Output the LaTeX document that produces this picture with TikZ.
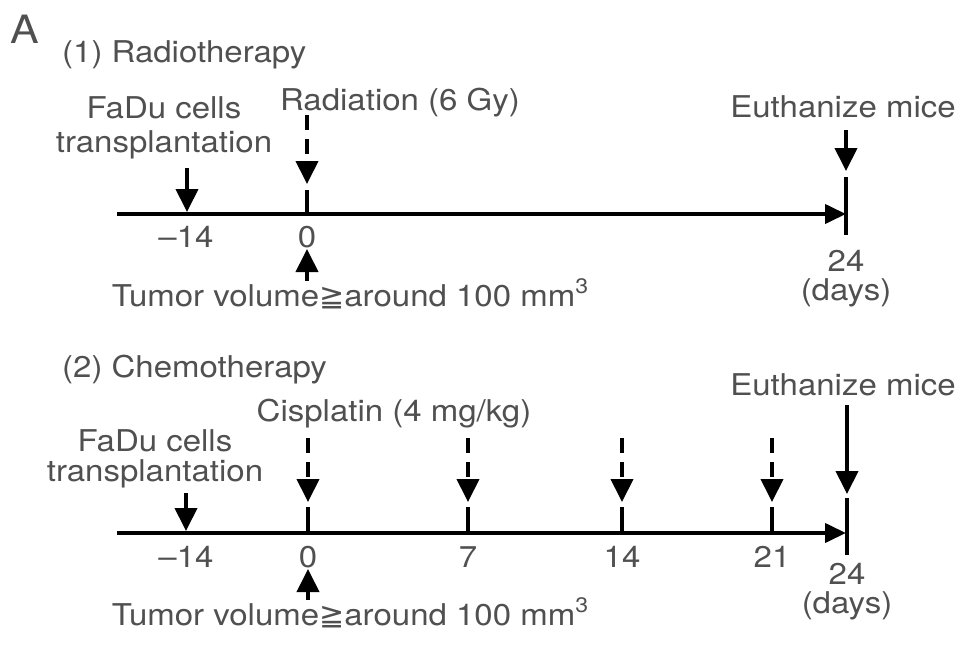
\documentclass[tikz,border=0pt]{standalone}
\usepackage{fontspec}
\setmainfont{TeX Gyre Heros}[FakeStretch=1.1]
\newfontfamily\dvsym{DejaVu Sans}
\usetikzlibrary{arrows.meta}
\definecolor{txt}{HTML}{505050}
\newcommand{\cubed}{\raisebox{0.42em}{\fontsize{21}{21}\selectfont 3}}
\begin{document}
\begin{tikzpicture}[x=1pt,y=-1pt,
  lbl/.style={inner sep=0pt, anchor=base, text=txt, font=\fontsize{30}{34}\selectfont},
  axisline/.style={line width=4pt, -{Triangle[width=19pt,length=21pt]}},
  downarrow/.style={line width=4pt, -{Triangle[width=22pt,length=23pt]}},
  dasharrow/.style={downarrow, dash pattern=on 15pt off 9pt},
  tickline/.style={line width=4pt}]
\useasboundingbox (0,0) rectangle (969,648);

% ---------- Panel 1 ----------
\node[lbl, anchor=base west, font=\fontsize{39}{39}\selectfont] (A) at (10,43) {A};
\node[lbl, anchor=base west] (t1) at (62,62) {(1) Radiotherapy};
\node[lbl] (fa1) at (164,118) {FaDu cells};
\node[lbl] (fb1) at (164,152) {transplantation};
\node[lbl] (rad) at (400,110) {Radiation (6 Gy)};
\node[lbl] (eu1) at (843,117) {Euthanize mice};

\coordinate (s1) at (117,214);
\coordinate (e1) at (846,214);
\draw[axisline] (s1) -- (e1);
\coordinate (bt1) at (846,177);
\coordinate (bb1) at (846,235);
\draw[tickline] (bt1) -- (bb1);
\coordinate (eut1) at (846,130);
\coordinate (euh1) at (846,171);
\draw[downarrow] (eut1) -- (euh1);

\coordinate (ft1) at (187,168);
\coordinate (fh1) at (187,212);
\draw[downarrow] (ft1) -- (fh1);

\coordinate (rt1) at (307,115);
\coordinate (rh1) at (307,184);
\draw[dasharrow] (rt1) -- (rh1);
\coordinate (kt1) at (307,190);
\coordinate (kb1) at (307,214);
\draw[tickline] (kt1) -- (kb1);

\node[lbl] (m14a) at (186,247) {–14};
\node[lbl] (z1) at (307,247) {0};
\node[lbl] (d24a) at (846,271) {24};
\node[lbl] (days1) at (846,300) {(days)};

\coordinate (ut1) at (307,281);
\coordinate (uh1) at (307,249);
\draw[downarrow] (ut1) -- (uh1);
\node[lbl] (tum1) at (350,306) {Tumor volume{\dvsym ≧}around 100 mm\cubed};

% ---------- Panel 2 ----------
\node[lbl, anchor=base west] (t2) at (62,377) {(2) Chemotherapy};
\node[lbl] (eu2) at (843,395) {Euthanize mice};
\node[lbl] (cis) at (394,421) {Cisplatin (4 mg/kg)};
\node[lbl] (fa2) at (155,451) {FaDu cells};
\node[lbl] (fb2) at (155,481) {transplantation};

\coordinate (s2) at (117,533);
\coordinate (e2) at (846,533);
\draw[axisline] (s2) -- (e2);
\coordinate (bt2) at (847,498);
\coordinate (bb2) at (847,555);
\draw[tickline] (bt2) -- (bb2);
\coordinate (eut2) at (847,405);
\coordinate (euh2) at (847,494);
\draw[downarrow] (eut2) -- (euh2);

\coordinate (ft2) at (186,493);
\coordinate (fh2) at (186,531);
\draw[downarrow] (ft2) -- (fh2);

\foreach \x/\n in {308/a,468/b,622/c,772/d}{
  \coordinate (ct\n) at (\x,438);
  \coordinate (ch\n) at (\x,502);
  \draw[dasharrow] (ct\n) -- (ch\n);
  \coordinate (kt\n) at (\x,507);
  \coordinate (kb\n) at (\x,533);
  \draw[tickline] (kt\n) -- (kb\n);
}

\node[lbl] (m14b) at (186,567) {–14};
\node[lbl] (z2) at (308,567) {0};
\node[lbl] (d7) at (468,567) {7};
\node[lbl] (d14) at (622,567) {14};
\node[lbl] (d21) at (772,567) {21};
\node[lbl] (d24b) at (847,584) {24};
\node[lbl] (days2) at (847,613) {(days)};

\coordinate (ut2) at (308,600);
\coordinate (uh2) at (308,569);
\draw[downarrow] (ut2) -- (uh2);
\node[lbl] (tum2) at (350,625) {Tumor volume{\dvsym ≧}around 100 mm\cubed};
\end{tikzpicture}
\end{document}
